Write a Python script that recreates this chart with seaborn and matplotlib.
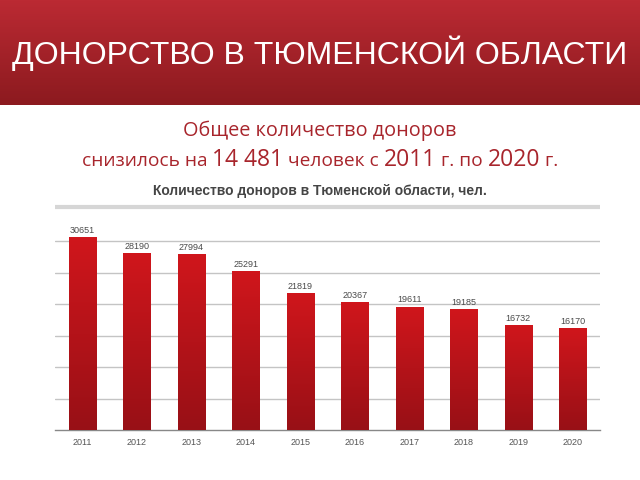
import numpy as np
import pandas as pd
import seaborn as sns
import matplotlib.pyplot as plt
from matplotlib.colors import LinearSegmentedColormap

years = ["2011", "2012", "2013", "2014", "2015", "2016", "2017", "2018", "2019", "2020"]
donors = [30651, 28190, 27994, 25291, 21819, 20367, 19611, 19185, 16732, 16170]

header = "ДОНОРСТВО В ТЮМЕНСКОЙ ОБЛАСТИ"
sub_line1 = "Общее количество доноров"
sub_parts = [("снизилось на ", False), ("14 481", True), (" человек с ", False),
             ("2011", True), (" г. по ", False), ("2020", True), (" г.", False)]
chart_title = "Количество доноров в Тюменской области, чел."

sns.set_theme(style="white")
plt.rcParams['font.family'] = ['Liberation Sans', 'DejaVu Sans']

df = pd.DataFrame({"year": years, "donors": donors})

fig = plt.figure(figsize=(6.4, 4.8), dpi=100)
fig.patch.set_facecolor("white")

# red header band
hax = fig.add_axes([0, 1 - 105 / 480, 1, 105 / 480])
head_cmap = LinearSegmentedColormap.from_list("head", ["#8c1a1f", "#bb2a33"])
hax.imshow(np.linspace(0, 1, 100).reshape(-1, 1), aspect="auto", cmap=head_cmap,
           extent=[0, 1, 0, 1], origin="lower")
hax.set_xlim(0, 1)
hax.set_ylim(0, 1)
hax.axis("off")
hax.text(0.5, 0.49, header, color="white", fontsize=23, ha="center", va="center",
         family=["Liberation Sans Narrow", "Liberation Sans"], fontstretch="condensed")

# subtitle
red = "#a8252c"
fig.text(0.5, 1 - 131 / 480, sub_line1, color=red, fontsize=14.3, ha="center", va="center",
         family=["Open Sans", "DejaVu Sans"])
pieces = []
for txt, big in sub_parts:
    size = 16.5 if big else 13.8
    t = fig.text(0.0, 0.0, txt, color=red, fontsize=size, ha="left", va="baseline",
                 family=["Open Sans", "DejaVu Sans"])
    pieces.append(t)
fig.canvas.draw()
r = fig.canvas.get_renderer()
widths = [p.get_window_extent(r).width for p in pieces]
x = (640 - sum(widths)) / 2
for p, w in zip(pieces, widths):
    p.set_position((x / 640, 1 - 166 / 480))
    x += w

fig.text(0.5, 1 - 191 / 480, chart_title, color="#454545", fontsize=10, fontweight="bold",
         ha="center", va="center")

# separator band above the plot
fig.add_artist(plt.Line2D([55 / 640, 600 / 640], [1 - 207 / 480, 1 - 207 / 480],
                          color="#d6d6d6", linewidth=3, solid_capstyle="butt",
                          transform=fig.transFigure))

ax = fig.add_axes([55 / 640, 1 - 430 / 480, 545 / 640, 222 / 480])
sns.barplot(data=df, x="year", y="donors", ax=ax, width=0.5, color="#c8161d",
            edgecolor="#7a0c10", linewidth=0.6, zorder=3)

bar_cmap = LinearSegmentedColormap.from_list("bar", ["#981016", "#d0161c"])
for patch in ax.patches:
    bx, by = patch.get_x(), patch.get_y()
    bw, bh = patch.get_width(), patch.get_height()
    im = ax.imshow(np.linspace(0, 1, 100).reshape(-1, 1), aspect="auto", cmap=bar_cmap,
                   extent=[bx, bx + bw, by, by + bh], origin="lower", zorder=3)
    im.set_clip_path(patch)

for i, v in enumerate(donors):
    ax.text(i, v + 350, str(v), ha="center", va="bottom", fontsize=6.5, color="#4a4a4a")

ax.set_xlim(-0.5, len(years) - 0.5)
ax.set_ylim(0, 35300)
ax.set_yticks([5000, 10000, 15000, 20000, 25000, 30000])
ax.yaxis.grid(True, color="#c4c4c4", linewidth=1)
ax.set_yticklabels([])
ax.tick_params(axis="y", length=0)
ax.set_xticks(range(len(years)))
ax.set_xticklabels(years, fontsize=6.5, color="#555555")
ax.tick_params(axis="x", length=0, pad=6)
ax.set_xticks(np.arange(-0.5, len(years), 1), minor=True)
ax.tick_params(axis="x", which="minor", length=3, color="#888888", width=0.8, direction="in")
ax.set_xlabel("")
ax.set_ylabel("")
for s in ["top", "right", "left"]:
    ax.spines[s].set_visible(False)
ax.spines["bottom"].set_color("#888888")
ax.spines["bottom"].set_linewidth(1)
ax.set_axisbelow(True)

fig.savefig("out.png", dpi=100)
